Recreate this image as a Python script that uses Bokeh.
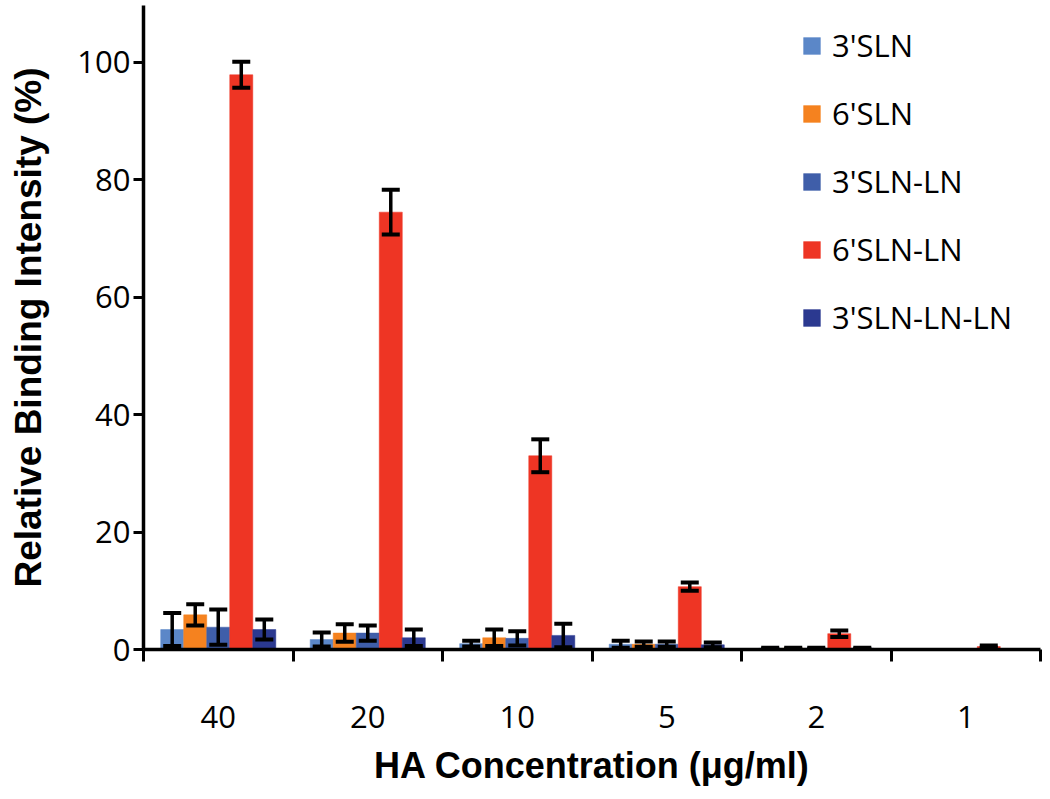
from bokeh.plotting import figure
from bokeh.models import Range1d, FixedTicker, ColumnDataSource, Whisker, TeeHead, Legend, LegendItem
from bokeh.transform import dodge
from bokeh.embed import file_html
from bokeh.resources import INLINE

# ---- data ----
concentrations = ["40", "20", "10", "5", "2", "1"]
series_names = ["3'SLN", "6'SLN", "3'SLN-LN", "6'SLN-LN", "3'SLN-LN-LN"]
series_colors = ["#5b87c8", "#f5821f", "#3f5ea9", "#ee3524", "#2b3990"]

sln3 = [3.4, 1.7, 1.0, 0.9, 0.2, 0.0]
sln6 = [5.9, 2.8, 2.0, 0.9, 0.2, 0.0]
sln3_ln = [3.8, 2.8, 1.9, 0.9, 0.2, 0.0]
sln6_ln = [97.9, 74.5, 33.0, 10.7, 2.7, 0.5]
sln3_ln_ln = [3.4, 2.0, 2.4, 0.8, 0.2, 0.0]

sln3_err = [2.8, 1.2, 0.5, 0.6, 0.1, 0.0]
sln6_err = [1.8, 1.5, 1.4, 0.45, 0.1, 0.0]
sln3_ln_err = [3.0, 1.3, 1.2, 0.45, 0.1, 0.0]
sln6_ln_err = [2.2, 3.8, 2.8, 0.7, 0.55, 0.2]
sln3_ln_ln_err = [1.7, 1.4, 2.0, 0.4, 0.1, 0.0]

values = [sln3, sln6, sln3_ln, sln6_ln, sln3_ln_ln]
errors = [sln3_err, sln6_err, sln3_ln_err, sln6_ln_err, sln3_ln_ln_err]

# ---- figure ----
n = len(concentrations)
centers = [i + 0.5 for i in range(n)]
bar_w = 0.154

p = figure(width=1042, height=796, x_range=Range1d(0, n), y_range=Range1d(0, 109.7),
           output_backend="svg", toolbar_location=None,
           min_border_left=143, min_border_right=2, min_border_top=5, min_border_bottom=147)
p.background_fill_color = "white"
p.border_fill_color = "white"
p.outline_line_color = None
p.xgrid.grid_line_color = None
p.ygrid.grid_line_color = None

legend_items = []
for j, (name, col, vals, errs) in enumerate(zip(series_names, series_colors, values, errors)):
    off = (j - 2) * bar_w
    src = ColumnDataSource(dict(x=centers, top=vals))
    r = p.vbar(x=dodge("x", off, range=p.x_range), top="top", bottom=0, width=bar_w,
               source=src, fill_color=col, line_color=col, line_width=0.5)
    legend_items.append(LegendItem(label=name, renderers=[r]))
    keep = [k for k in range(n) if errs[k] > 0]
    esrc = ColumnDataSource(dict(
        x=[centers[k] for k in keep],
        lower=[vals[k] - errs[k] for k in keep],
        upper=[vals[k] + errs[k] for k in keep]))
    w = Whisker(base=dodge("x", off, range=p.x_range), lower="lower", upper="upper", source=esrc,
                line_color="black", line_width=3.5, level="annotation",
                upper_head=TeeHead(size=18, line_width=4, line_color="black"),
                lower_head=TeeHead(size=18, line_width=4, line_color="black"))
    p.add_layout(w)

# ---- axes ----
tick_font = "Open Sans"
xa = p.xaxis[0]
xa.ticker = FixedTicker(ticks=centers, minor_ticks=list(range(n + 1)))
xa.major_label_overrides = {c: lab for c, lab in zip(centers, concentrations)}
xa.major_tick_out = 0
xa.major_tick_in = 0
xa.minor_tick_out = 12
xa.minor_tick_in = 0
xa.minor_tick_line_width = 3
xa.minor_tick_line_color = "black"
xa.axis_line_width = 3.5
xa.axis_line_color = "black"
xa.major_label_text_font = tick_font
xa.major_label_text_font_size = "31px"
xa.major_label_text_color = "black"
xa.major_label_standoff = 44
xa.axis_label = "HA Concentration (\u03bcg/ml)"
xa.axis_label_text_font = "Liberation Sans"
xa.axis_label_text_font_style = "bold"
xa.axis_label_text_font_size = "36px"
xa.axis_label_text_color = "black"
xa.axis_label_standoff = 14

ya = p.yaxis[0]
ya.ticker = FixedTicker(ticks=[0, 20, 40, 60, 80, 100])
ya.major_tick_out = 10
ya.major_tick_in = 0
ya.major_tick_line_width = 3
ya.major_tick_line_color = "black"
ya.minor_tick_out = 0
ya.minor_tick_in = 0
ya.axis_line_width = 3.5
ya.axis_line_color = "black"
ya.major_label_text_font = tick_font
ya.major_label_text_font_size = "31px"
ya.major_label_text_color = "black"
ya.major_label_standoff = 3
ya.axis_label = "Relative Binding Intensity (%)"
ya.axis_label_text_font = "Liberation Sans"
ya.axis_label_text_font_style = "bold"
ya.axis_label_text_font_size = "37px"
ya.axis_label_text_color = "black"
ya.axis_label_standoff = 25

# ---- legend ----
legend = Legend(items=legend_items, location=(658, 311), orientation="vertical",
                label_text_font=tick_font, label_text_font_size="31px", label_text_color="black",
                glyph_width=21, glyph_height=21, label_height=35, label_standoff=10,
                spacing=26, padding=0, margin=0,
                border_line_alpha=0, background_fill_alpha=0)
p.add_layout(legend)

open("out.html", "w").write(file_html(p, INLINE))
